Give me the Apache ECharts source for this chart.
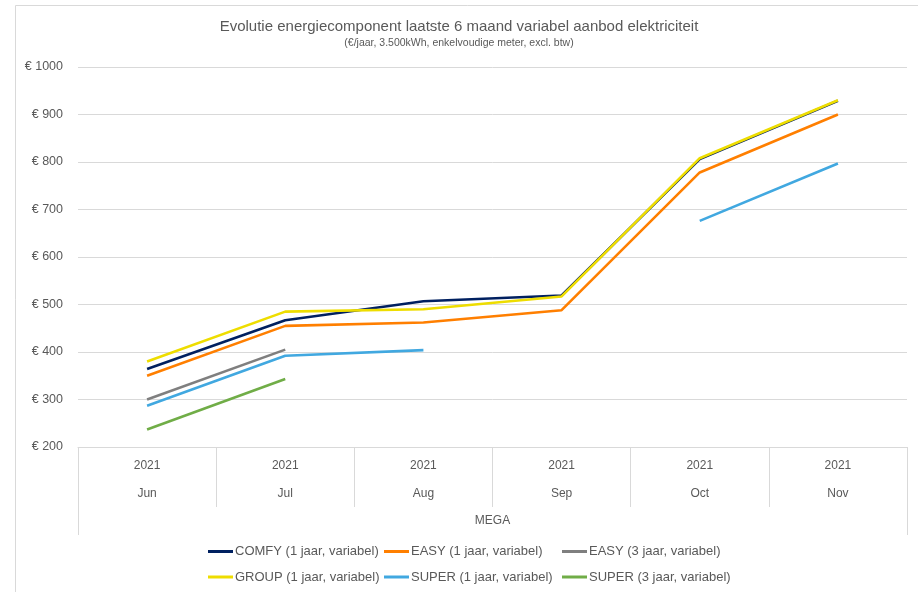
<!DOCTYPE html>
<html>
<head>
<meta charset="utf-8">
<script src="https://cdn.jsdelivr.net/npm/echarts@6/dist/echarts.min.js"></script>
<style>
html,body{margin:0;padding:0;background:#fff;}
#c{width:918px;height:592px;}
</style>
</head>
<body>
<div id="c"></div>
<script>
const years = ['2021','2021','2021','2021','2021','2021'];
const months = ['Jun','Jul','Aug','Sep','Oct','Nov'];
const groupLabel = ['MEGA'];
const comfy1 = [364, 467, 507, 519, 806, 929];
const easy1  = [350, 455, 462, 488, 778, 900];
const easy3  = [300, 405, null, null, null, null];
const group1 = [380, 485, 490, 517, 808, 930];
const super1 = [287, 392, 404, null, 676, 797];
const super3 = [237, 343, null, null, null, null];
const yTicks = {min: 200, max: 1000, interval: 100};

const names = ['COMFY (1 jaar, variabel)','EASY (1 jaar, variabel)','EASY (3 jaar, variabel)',
               'GROUP (1 jaar, variabel)','SUPER (1 jaar, variabel)','SUPER (3 jaar, variabel)'];
const colors = ['#002060','#FF7F00','#7F7F7F','#EEDD00','#41A8E0','#70AD47'];
const values = [comfy1, easy1, easy3, group1, super1, super3];
const font = 'Liberation Sans';
const txt = '#595959';
const gridCol = '#d9d9d9';

const chart = echarts.init(document.getElementById('c'), null, {renderer:'canvas'});
const legendBase = {
  orient:'vertical', itemWidth:25, itemHeight:3, icon:'rect', itemGap:12.5, padding:0, top:545,
  textStyle:{fontFamily:font, fontSize:13, color:txt, padding:[0,0,0,-3]}
};
chart.setOption({
  backgroundColor:'#fff',
  animation:false,
  graphic:[{type:'rect', shape:{x:15.5,y:5.5,width:910,height:600}, style:{fill:'none', stroke:'#d9d9d9', lineWidth:1}, silent:true, z:-1}],
  title:{
    text:'Evolutie energiecomponent laatste 6 maand variabel aanbod elektriciteit',
    subtext:'(€/jaar, 3.500kWh, enkelvoudige meter, excl. btw)',
    left:'center', top:14, itemGap:4,
    textStyle:{fontFamily:font, fontSize:15, fontWeight:'normal', color:txt},
    subtextStyle:{fontFamily:font, fontSize:10.5, color:txt}
  },
  legend:[
    Object.assign({}, legendBase, {left:208, data:[names[0], names[3]]}),
    Object.assign({}, legendBase, {left:384, data:[names[1], names[4]]}),
    Object.assign({}, legendBase, {left:562, data:[names[2], names[5]]})
  ],
  grid:{left:78, right:11, top:67, bottom:145},
  xAxis:[
    {type:'category', data:months, boundaryGap:true,
     axisLine:{show:true, lineStyle:{color:gridCol}},
     axisTick:{show:true, length:60, lineStyle:{color:gridCol}},
     axisLabel:{margin:5, lineHeight:28, fontFamily:font, fontSize:12, color:txt,
       formatter:(v, i)=> years[i] + '\n' + v}},
    {type:'category', data:groupLabel, position:'bottom', offset:60, boundaryGap:true,
     axisLine:{show:false},
     axisTick:{show:true, length:28, lineStyle:{color:gridCol}},
     axisLabel:{margin:0, lineHeight:28, fontFamily:font, fontSize:12, color:txt}}
  ],
  yAxis:{type:'value', min:yTicks.min, max:yTicks.max, interval:yTicks.interval,
    axisLine:{show:false}, axisTick:{show:false},
    splitLine:{lineStyle:{color:gridCol}},
    axisLabel:{margin:15, fontFamily:font, fontSize:12.5, color:txt, formatter:v=>'€ ' + v}},
  series: names.map((n,i)=>({
    name:n, type:'line', data:values[i], xAxisIndex:0,
    showSymbol:false, symbol:'none', connectNulls:false,
    lineStyle:{width:2.6, color:colors[i]}, itemStyle:{color:colors[i]}
  }))
});
</script>
</body>
</html>
